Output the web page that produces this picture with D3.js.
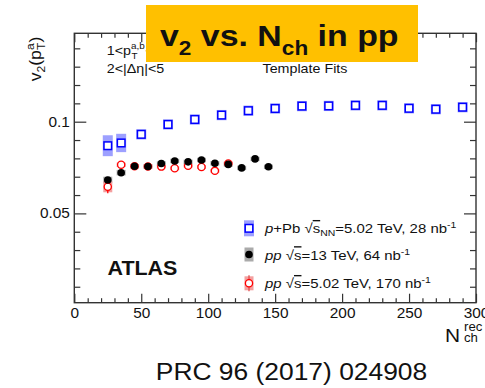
<!DOCTYPE html>
<html>
<head>
<meta charset="utf-8">
<script src="https://cdn.jsdelivr.net/npm/d3@7"></script>
<style>
  body { margin: 0; background: #fff; }
  text { font-family: "Liberation Sans", Arial, Helvetica, sans-serif; fill: #111; }
</style>
</head>
<body>
<svg id="chart" width="485" height="388"></svg>
<script>
// v2 vs. multiplicity, template-fit results
const pPbN   = [25, 35, 50, 70, 90, 110, 130, 150, 170, 190, 210, 230, 250, 270, 290];
const pPbV2  = [0.0869, 0.0884, 0.0931, 0.0985, 0.1012, 0.1036, 0.1060, 0.1072, 0.1085, 0.1086, 0.1089, 0.1089, 0.1073, 0.1068, 0.1079];
const pPbSys = [0.0057, 0.0050, 0.0028, 0.0028, 0.0028, 0.0028, 0.0028, 0.0028, 0.0028, 0.0028, 0.0028, 0.0028, 0.0028, 0.0028, 0.0028];

const pp13N   = [25, 35, 45, 55, 65, 75, 85, 95, 105, 115, 125, 135, 145];
const pp13V2  = [0.0682, 0.0722, 0.0757, 0.0756, 0.0772, 0.0786, 0.0781, 0.0791, 0.0773, 0.0767, 0.0748, 0.0797, 0.0754];
const pp13Sys = [0.0018, 0.0015, 0.0012, 0.0012, 0.0012, 0.0012, 0.0012, 0.0012, 0.0012, 0.0012, 0.0012, 0.0012, 0.0012];

const pp5N    = [25, 35, 45, 55, 65, 75, 85, 95, 105, 115];
const pp5V2   = [0.0645, 0.0765, 0.0757, 0.0756, 0.0755, 0.0746, 0.0760, 0.0753, 0.0732, 0.0772];
const pp5Stat = [0.0035, 0.0010, 0.0008, 0.0008, 0.0008, 0.0008, 0.0008, 0.0008, 0.0010, 0.0012];
const pp5Sys  = [0.0030, 0.0012, 0.0010, 0.0010, 0.0010, 0.0010, 0.0010, 0.0010, 0.0010, 0.0010];

const xMajorTicks = [0, 50, 100, 150, 200, 250, 300];
const xMinorTicks = d3.range(0, 301, 10).filter(d => d % 50 !== 0);
const yMajorTicks = [0.05, 0.1];
const yMinorTicks = d3.range(1, 15).filter(d => d % 5 !== 0).map(d => d / 100);

const SX = 1.1; // horizontal text stretch
const svg = d3.select("#chart");
const frame = { left: 74.3, right: 476, top: 33.3, bottom: 302.7 };

const x = d3.scaleLinear().domain([0, 300]).range([frame.left, frame.right]);
const y = d3.scaleLinear().domain([0.0013, 0.1482]).range([frame.bottom, frame.top]);

const axisColor = "#333";

function styleAxis(g) {
  g.select(".domain").remove();
  g.selectAll(".tick line").attr("stroke", axisColor).attr("stroke-width", 1.2);
  g.selectAll(".tick text")
    .style("font-family", '"Liberation Sans", Arial, sans-serif')
    .style("font-size", "14px").attr("fill", "#111")
    .attr("transform", `scale(${SX},1)`);
}

// bottom axis
svg.append("g").attr("transform", `translate(0,${frame.bottom})`)
  .call(d3.axisBottom(x).tickValues(xMinorTicks).tickSizeInner(-4.5).tickSizeOuter(0).tickFormat(""))
  .call(styleAxis);
svg.append("g").attr("transform", `translate(0,${frame.bottom})`)
  .call(d3.axisBottom(x).tickValues(xMajorTicks).tickSizeInner(-9).tickSizeOuter(0).tickPadding(5).tickFormat(d3.format("d")))
  .call(styleAxis);
// top axis (mirror)
svg.append("g").attr("transform", `translate(0,${frame.top})`)
  .call(d3.axisTop(x).tickValues(xMinorTicks).tickSizeInner(-4.5).tickSizeOuter(0).tickFormat(""))
  .call(styleAxis);
svg.append("g").attr("transform", `translate(0,${frame.top})`)
  .call(d3.axisTop(x).tickValues(xMajorTicks).tickSizeInner(-9).tickSizeOuter(0).tickFormat(""))
  .call(styleAxis);
// left axis
svg.append("g").attr("transform", `translate(${frame.left},0)`)
  .call(d3.axisLeft(y).tickValues(yMinorTicks).tickSizeInner(-6).tickSizeOuter(0).tickFormat(""))
  .call(styleAxis);
svg.append("g").attr("transform", `translate(${frame.left},0)`)
  .call(d3.axisLeft(y).tickValues(yMajorTicks).tickSizeInner(-12).tickSizeOuter(0).tickPadding(4).tickFormat(d => d === 0.1 ? "0.1" : "0.05"))
  .call(styleAxis);
// right axis (mirror)
svg.append("g").attr("transform", `translate(${frame.right},0)`)
  .call(d3.axisRight(y).tickValues(yMinorTicks).tickSizeInner(-6).tickSizeOuter(0).tickFormat(""))
  .call(styleAxis);
svg.append("g").attr("transform", `translate(${frame.right},0)`)
  .call(d3.axisRight(y).tickValues(yMajorTicks).tickSizeInner(-12).tickSizeOuter(0).tickFormat(""))
  .call(styleAxis);

// frame
svg.append("rect")
  .attr("x", frame.left).attr("y", frame.top)
  .attr("width", frame.right - frame.left).attr("height", frame.bottom - frame.top)
  .attr("fill", "none").attr("stroke", axisColor).attr("stroke-width", 1.4);

// helper for stretched text
function label(x0, y0, size, opts = {}) {
  const t = svg.append("text")
    .attr("transform", `translate(${x0},${y0})${opts.rotate ? ` rotate(${opts.rotate})` : ""} scale(${opts.sx || SX},1)`)
    .style("font-size", size + "px")
    .attr("text-anchor", opts.anchor || "start");
  if (opts.weight) t.style("font-weight", opts.weight);
  return t;
}
function span(t, str, o = {}) {
  const s = t.append("tspan").text(str);
  if (o.size) s.style("font-size", o.size + "px");
  if (o.dx) s.attr("dx", o.dx);
  if (o.dy) s.attr("dy", o.dy);
  if (o.italic) s.style("font-style", "italic");
  if (o.over) s.style("text-decoration", "overline");
  return s;
}

// systematic bands
const bands = svg.append("g");
bands.selectAll("rect.pPb").data(pPbN).join("rect")
  .attr("x", d => x(d) - 5).attr("width", 10)
  .attr("y", (d, i) => y(pPbV2[i] + pPbSys[i]))
  .attr("height", (d, i) => y(pPbV2[i] - pPbSys[i]) - y(pPbV2[i] + pPbSys[i]))
  .attr("fill", "#9da0ff");
bands.selectAll("rect.pp13").data(pp13N).join("rect")
  .attr("x", d => x(d) - 4.5).attr("width", 9)
  .attr("y", (d, i) => y(pp13V2[i] + pp13Sys[i]))
  .attr("height", (d, i) => y(pp13V2[i] - pp13Sys[i]) - y(pp13V2[i] + pp13Sys[i]))
  .attr("fill", "#aaaaaa");
bands.selectAll("rect.pp5").data(pp5N).join("rect")
  .attr("x", d => x(d) - 4.5).attr("width", 9)
  .attr("y", (d, i) => y(pp5V2[i] + pp5Sys[i]))
  .attr("height", (d, i) => y(pp5V2[i] - pp5Sys[i]) - y(pp5V2[i] + pp5Sys[i]))
  .attr("fill", "#f4a0a0");

// pp 5.02 TeV: statistical bars + open circles
svg.append("g").selectAll("line").data(pp5N).join("line")
  .attr("x1", d => x(d)).attr("x2", d => x(d))
  .attr("y1", (d, i) => y(pp5V2[i] + pp5Stat[i]))
  .attr("y2", (d, i) => y(pp5V2[i] - pp5Stat[i]))
  .attr("stroke", "#ff0000").attr("stroke-width", 1.3);
svg.append("g").selectAll("circle").data(pp5N).join("circle")
  .attr("cx", d => x(d)).attr("cy", (d, i) => y(pp5V2[i]))
  .attr("r", 3.6).attr("fill", "#fff").attr("stroke", "#ff0000").attr("stroke-width", 1.3);

// pp 13 TeV: filled circles
svg.append("g").selectAll("circle").data(pp13N).join("circle")
  .attr("cx", d => x(d)).attr("cy", (d, i) => y(pp13V2[i]))
  .attr("r", 3.8).attr("fill", "#000");

// p+Pb: open squares
svg.append("g").selectAll("rect").data(pPbN).join("rect")
  .attr("x", d => x(d) - 3.8).attr("y", (d, i) => y(pPbV2[i]) - 3.8)
  .attr("width", 7.6).attr("height", 7.6)
  .attr("fill", "#fff").attr("stroke", "#0000ff").attr("stroke-width", 1.5);

// legend
const legendX = 249;
const legendTextX = 265;
const legendY = [228.3, 254.5, 283.3];
const lg = svg.append("g");
// p+Pb entry
lg.append("rect").attr("x", legendX - 5).attr("y", legendY[0] - 8).attr("width", 10).attr("height", 16).attr("fill", "#9da0ff");
lg.append("rect").attr("x", legendX - 3.8).attr("y", legendY[0] - 3.8).attr("width", 7.6).attr("height", 7.6)
  .attr("fill", "#fff").attr("stroke", "#0000ff").attr("stroke-width", 1.5);
// pp 13 TeV entry
lg.append("rect").attr("x", legendX - 4.5).attr("y", legendY[1] - 7).attr("width", 9).attr("height", 14).attr("fill", "#aaaaaa");
lg.append("circle").attr("cx", legendX).attr("cy", legendY[1]).attr("r", 3.8).attr("fill", "#000");
// pp 5.02 TeV entry
lg.append("rect").attr("x", legendX - 4.5).attr("y", legendY[2] - 7).attr("width", 9).attr("height", 14).attr("fill", "#f4a0a0");
lg.append("line").attr("x1", legendX).attr("x2", legendX).attr("y1", legendY[2] - 8).attr("y2", legendY[2] + 8)
  .attr("stroke", "#e05050").attr("stroke-width", 1.3);
lg.append("circle").attr("cx", legendX).attr("cy", legendY[2]).attr("r", 3.6)
  .attr("fill", "#fff").attr("stroke", "#ff0000").attr("stroke-width", 1.3);

const legFont = 13.6;
let t = label(legendTextX, legendY[0] + 5, legFont);
span(t, "p", { italic: true });
span(t, "+Pb ");
span(t, "\u221A");
span(t, "s", { over: true });
span(t, "NN", { size: 9.5, dy: 3 });
span(t, "=5.02 TeV, 28 nb", { dy: -3 });
span(t, "-1", { size: 9.5, dy: -5 });

t = label(legendTextX, legendY[1] + 5, legFont);
span(t, "pp", { italic: true });
span(t, " \u221A");
span(t, "s", { over: true });
span(t, "=13 TeV, 64 nb");
span(t, "-1", { size: 9.5, dy: -5 });

t = label(legendTextX, legendY[2] + 5, legFont);
span(t, "pp", { italic: true });
span(t, " \u221A");
span(t, "s", { over: true });
span(t, "=5.02 TeV, 170 nb");
span(t, "-1", { size: 9.5, dy: -5 });

// ATLAS tag
label(107.5, 275, 19.5, { weight: "bold" }).text("ATLAS");

// selection text
t = label(106.7, 55, 13);
span(t, "1<p");
span(t, "a,b", { size: 9, dy: -6 });
span(t, "T", { size: 9, dx: -12, dy: 10 });
span(t, "<5 GeV", { dx: 7, dy: -4 });
t = label(106.7, 73, 13);
span(t, "2<|\u0394\u03B7|<5");
label(305, 73, 13, { anchor: "middle" }).text("Template Fits");

// y-axis title
t = label(41, 59, 16, { rotate: -90, anchor: "middle" });
span(t, "v");
span(t, "2", { size: 11, dy: 4 });
span(t, "(p", { dy: -4 });
span(t, "a", { size: 11, dy: -7 });
span(t, "T", { size: 11, dx: -6, dy: 11 });
span(t, ")", { dy: -4 });

// x-axis title
label(445, 341.7, 19).text("N");
label(464, 331, 12).text("rec");
label(464, 342, 12).text("ch");

// title banner
svg.append("rect").attr("x", 146).attr("y", 5).attr("width", 272).attr("height", 57).attr("fill", "#ffc000");
t = label(160, 46, 30, { weight: "bold", sx: 1.13 });
span(t, "v");
span(t, "2", { size: 20, dy: 9 });
span(t, " vs. N", { dy: -9 });
span(t, "ch", { size: 20, dy: 9 });
span(t, " in pp", { dy: -9 });

// reference
label(291.5, 380, 24, { anchor: "middle" }).text("PRC 96 (2017) 024908");
</script>
</body>
</html>
